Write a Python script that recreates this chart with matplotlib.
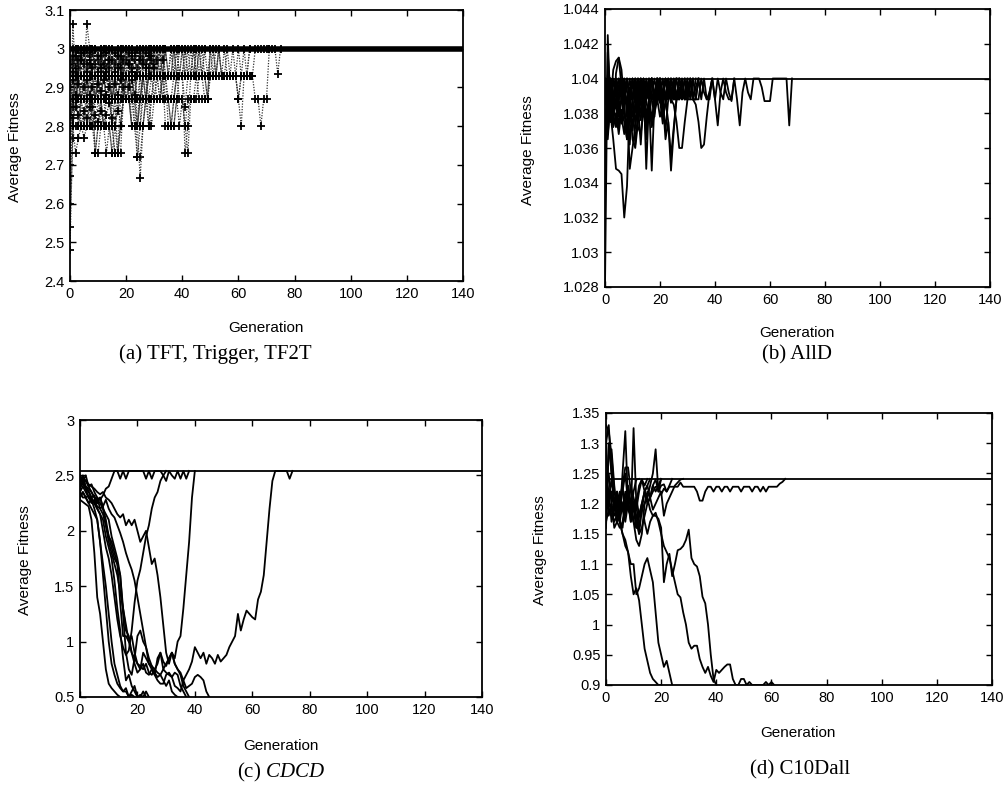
import numpy as np
import matplotlib
matplotlib.use("Agg")
import matplotlib.pyplot as plt
from matplotlib.ticker import FuncFormatter

plt.rcParams["mathtext.fontset"] = "custom"
plt.rcParams["mathtext.it"] = "Liberation Serif:italic"
plt.rcParams["mathtext.rm"] = "Liberation Serif"

# ---------------- data ----------------
gen_range = [0, 140]
x_ticks = [0, 20, 40, 60, 80, 100, 120, 140]

# (a) TFT, Trigger, TF2T
a_ylim = [2.4, 3.1]
a_yticks = [2.4, 2.5, 2.6, 2.7, 2.8, 2.9, 3.0, 3.1]
a_plateau = 3.0
a_run1 = [2.48, 2.8, 2.87, 2.93, 2.87, 2.8, 2.8, 2.8, 2.87, 2.73, 2.8, 2.87, 2.93, 3.0, 2.93, 2.8, 2.73, 2.73, 2.87, 2.93, 3.0]
a_run2 = [2.54, 2.77, 2.93, 3.0, 2.93, 2.87, 2.93, 2.93, 2.8, 2.8, 2.87, 2.93, 2.87, 2.8, 2.8, 2.73, 2.8, 2.87, 2.93, 2.87, 2.93, 3.0, 2.93, 2.8, 2.72, 2.72, 2.8, 2.87, 2.93, 3.0]
a_run3 = [2.6, 2.85, 3.0, 3.0, 2.93, 2.93, 3.065, 3.0, 2.93, 2.87, 2.87, 2.93, 3.0, 2.93, 2.87, 2.87, 2.8, 2.73, 2.73, 2.87, 2.93, 2.93, 3.0, 2.93, 2.8, 2.665, 2.8, 2.87, 2.93, 2.93, 3.0, 2.93, 2.87, 2.87, 2.93, 2.8, 2.8, 2.87, 2.93, 3.0]
a_run4 = [2.67, 3.065, 2.93, 2.87, 2.8, 2.77, 2.8, 2.8, 2.85, 2.87, 2.93, 3.0, 2.93, 2.93, 2.87, 2.8, 2.8, 2.87, 2.93, 3.0, 2.93, 2.93, 2.87, 2.8, 2.8, 2.87, 2.93, 2.93, 2.87, 2.8, 2.87, 2.93, 2.93, 3.0, 2.93, 2.87, 2.8, 2.8, 2.87, 2.8, 2.87, 2.8, 2.73, 2.87, 2.87, 2.87, 2.93, 2.93, 2.87, 2.87, 3.0]
a_run5 = [2.7, 2.93, 2.93, 2.93, 2.87, 2.87, 2.93, 3.0, 2.93, 2.93, 2.87, 2.87, 2.93, 2.93, 3.0, 2.93, 2.93, 2.87, 2.93, 2.93, 2.93, 3.0, 2.93, 2.93, 2.87, 2.87, 2.93, 3.0, 3.0, 2.93, 3.0, 2.93, 2.93, 2.93, 3.0, 2.93, 2.93, 3.0, 2.93, 2.93, 2.93, 3.0, 2.93, 2.93, 2.93, 2.93, 3.0, 2.93, 2.93, 2.87, 3.0, 3.0, 2.93, 3.0, 2.93, 2.93, 2.93, 2.93, 2.93, 2.93, 2.87, 2.93, 2.93, 2.93, 2.93, 2.93, 3.0, 3.0, 3.0, 3.0, 3.0, 3.0, 3.0, 3.0, 2.935, 3.0]
a_run6 = [2.73, 2.93, 2.87, 2.8, 2.87, 2.93, 2.93, 2.8, 2.8, 2.87, 2.93, 2.87, 2.8, 2.73, 2.8, 2.8, 2.87, 2.93, 3.0, 2.93, 2.87, 2.87, 2.8, 2.8, 2.8, 2.93, 2.93, 2.87, 2.8, 2.87, 2.93, 2.87, 2.87, 2.93, 2.8, 2.8, 2.8, 2.87, 2.93, 2.87, 2.87, 2.8, 2.87, 2.87, 2.87, 2.93, 2.87, 2.87, 2.87, 2.87, 2.93, 2.93, 3.0]
a_run7 = [2.8, 2.87, 2.93, 2.8, 2.8, 2.8, 2.87, 2.93, 3.0, 2.93, 2.93, 2.87, 2.8, 2.8, 2.8, 2.73, 2.73, 2.73, 2.8, 2.87, 2.93, 2.93, 2.93, 2.87, 2.72, 2.8, 2.93, 2.93, 2.8, 2.87, 2.93, 2.93, 2.93, 2.87, 2.87, 2.87, 2.8, 2.8, 2.87, 2.93, 2.93, 2.85, 2.93, 2.93, 2.93, 2.93, 2.93, 2.93, 2.93, 2.93, 2.93, 2.93, 2.93, 2.93, 2.93, 2.93, 2.93, 2.93, 2.93, 2.93, 2.87, 2.8, 2.93, 2.93, 3.0]
a_run8 = [2.93, 3.0, 2.93, 2.93, 3.0, 2.93, 2.87, 2.87, 2.87, 2.73, 2.8, 2.87, 2.8, 2.87, 2.93, 2.87, 2.87, 2.73, 2.8, 2.87, 2.93, 2.87, 2.8, 2.8, 2.8, 2.87, 2.93, 2.87, 2.87, 2.87, 2.87, 2.93, 2.93, 2.87, 2.87, 2.87, 2.87, 2.87, 2.93, 2.93, 2.93, 2.73, 2.8, 2.93, 2.93, 3.0]
a_run9 = [2.95, 2.93, 3.0, 2.93, 2.8, 2.8, 2.93, 2.93, 2.87, 2.87, 2.93, 2.93, 3.0, 2.93, 2.93, 2.87, 2.93, 3.0, 2.93, 2.93, 3.0, 2.93, 2.93, 2.87, 2.93, 3.0, 2.93, 2.93, 3.0, 2.93, 2.93, 2.93, 3.0, 2.93, 2.93, 2.93, 3.0, 2.93, 3.0, 2.93, 2.93, 3.0, 2.93, 2.93, 3.0, 2.93, 2.93, 3.0, 2.93, 2.87, 2.93, 3.0, 2.93, 3.0, 2.93, 3.0, 2.93, 2.93, 3.0, 2.93, 2.87, 2.93, 3.0, 2.93, 2.93, 2.93, 2.87, 2.87, 2.8, 2.87, 2.87, 3.0]
a_run10 = [2.93, 2.93, 2.87, 2.93, 3.0, 2.93, 2.87, 2.93, 2.93, 3.0, 2.93, 2.87, 2.87, 2.93, 2.93, 2.87, 2.93, 3.0, 2.93, 2.87, 2.93, 2.93, 2.87, 2.93, 3.0, 2.93, 2.87, 2.87, 2.93, 3.0, 2.93, 2.93, 2.87, 2.93, 3.0]
a_run11 = [2.87, 2.8, 2.8, 2.8, 2.87, 2.8, 2.8, 2.8, 2.87, 2.93, 2.87, 2.8, 2.8, 2.8, 2.8, 2.87, 2.93, 2.87, 2.8, 2.87, 2.93, 2.93, 2.8, 2.8, 2.8, 2.8, 2.87, 2.87, 2.93, 2.93, 3.0]
a_run12 = [3.0, 2.93, 2.93, 3.0, 2.93, 3.0, 2.93, 2.93, 3.0, 2.93, 2.93, 3.0, 2.93, 2.87, 2.93, 3.0, 2.93, 2.93, 3.0, 2.93, 2.93, 2.93, 3.0, 2.93, 2.93, 3.0, 2.93, 2.93, 2.93, 3.0, 2.93, 2.93, 3.0, 2.93, 3.0, 2.93, 2.93, 3.0, 2.93, 2.93, 3.0, 2.93, 2.93, 3.0, 2.93, 3.0, 2.93, 2.93, 3.0, 2.93, 3.0, 2.93, 2.93, 3.0, 2.93, 2.93, 3.0, 2.93, 2.93, 2.93, 3.0, 2.93, 2.93, 2.93, 3.0]
a_run13 = [2.93, 2.87, 2.93, 2.87, 2.87, 2.93, 2.87, 2.87, 2.93, 2.87, 2.87, 2.87, 2.93, 2.87, 2.87, 2.93, 2.87, 2.87, 2.87, 2.93, 2.87, 2.93, 2.87, 2.87, 2.8, 2.87, 2.93, 2.87, 2.87, 2.93, 2.87, 2.87, 2.87, 2.93, 2.87, 2.87, 2.87, 2.93, 2.93, 3.0]
a_run14 = [2.85, 2.93, 3.0, 2.93, 2.87, 2.93, 3.0, 2.93, 2.93, 2.87, 2.93, 3.0, 2.93, 2.93, 3.0, 2.93, 2.87, 2.93, 3.0, 2.93, 2.93, 3.0, 2.93, 2.93, 2.87, 2.93, 3.0, 2.93, 3.0, 2.93, 2.93, 3.0, 2.93, 3.0, 2.93, 2.93, 3.0, 2.93, 3.0, 2.93, 3.0, 2.93, 3.0, 2.93, 3.0, 2.93, 3.0, 2.93, 3.0]
a_run15 = [2.8, 2.8, 2.73, 2.77, 2.8, 2.8, 2.87, 2.8, 2.8, 2.73, 2.73, 2.8, 2.8, 2.8, 2.8, 2.8, 2.73, 2.73, 2.8, 2.87, 2.93, 2.87, 2.8, 2.8, 2.8, 2.8, 2.8, 2.87, 2.93, 3.0]
a_run16 = [2.97, 2.96, 3.0, 2.95, 2.97, 3.0, 2.96, 2.98, 2.95, 3.0, 2.97, 2.96, 2.99, 2.95, 2.97, 3.0, 2.96, 2.98, 2.95, 2.97, 3.0, 2.96, 2.98, 2.97, 2.95, 3.0, 2.97, 2.96, 2.98, 3.0, 2.96, 2.97, 3.0]
a_run17 = [2.96, 2.98, 2.95, 2.97, 2.99, 2.96, 2.93, 2.97, 2.99, 2.96, 2.94, 2.98, 2.96, 2.99, 2.95, 2.97, 2.94, 2.98, 2.96, 2.93, 2.97, 2.99, 2.95, 2.97, 2.94, 2.98, 2.96, 2.99, 2.95, 2.97, 3.0]
a_run18 = [2.9, 2.92, 2.88, 2.91, 2.87, 2.9, 2.92, 2.88, 2.9, 2.87, 2.91, 2.89, 2.92, 2.88, 2.9, 2.87, 2.91, 2.88, 2.92, 2.9, 2.87, 2.9, 2.92, 2.88, 2.93, 3.0]
a_run19 = [3.0, 2.94, 2.98, 2.93, 2.97, 2.99, 2.94, 2.96, 3.0, 2.93, 2.98, 2.95, 3.0, 2.94, 2.97, 2.93, 2.99, 2.95, 2.98, 2.93, 3.0, 2.96, 2.94, 2.99, 2.93, 2.97, 3.0, 2.95, 2.93, 2.98, 2.95, 3.0, 2.93, 2.97, 3.0]
a_run20 = [2.83, 2.82, 2.85, 2.83, 2.8, 2.84, 2.82, 2.85, 2.8, 2.83, 2.81, 2.84, 2.8, 2.83, 2.86, 2.82, 2.8, 2.84, 2.87, 2.93, 3.0]
a_runs = [a_run1, a_run2, a_run3, a_run4, a_run5, a_run6, a_run7, a_run8,
          a_run9, a_run10, a_run11, a_run12, a_run13, a_run14, a_run15,
          a_run16, a_run17, a_run18, a_run19, a_run20]

# (b) AllD
b_ylim = [1.028, 1.044]
b_yticks = [1.028, 1.030, 1.032, 1.034, 1.036, 1.038, 1.040, 1.042, 1.044]
b_plateau = 1.040
b_run1 = [1.028, 1.0425, 1.038, 1.0365, 1.0348, 1.0347, 1.0345, 1.032, 1.0338, 1.0385, 1.04, 1.0388, 1.04, 1.0392, 1.04, 1.0388, 1.0395, 1.04]
b_run2 = [1.0335, 1.0415, 1.039, 1.0375, 1.0403, 1.0412, 1.0405, 1.0385, 1.0388, 1.0348, 1.036, 1.0372, 1.0388, 1.04, 1.0385, 1.0365, 1.0388, 1.04, 1.039, 1.0395, 1.04]
b_run3 = [1.0345, 1.04, 1.0388, 1.0396, 1.04, 1.0388, 1.0374, 1.0388, 1.04, 1.0388, 1.0365, 1.036, 1.0375, 1.0388, 1.04, 1.0348, 1.0388, 1.04, 1.0388, 1.039, 1.04, 1.0388, 1.0365, 1.0375, 1.0347, 1.037, 1.0388, 1.04]
b_run4 = [1.037, 1.04, 1.0375, 1.0388, 1.04, 1.0388, 1.04, 1.0388, 1.0385, 1.039, 1.0388, 1.04, 1.0378, 1.0388, 1.0388, 1.04, 1.0388, 1.0347, 1.0388, 1.04, 1.0388, 1.039, 1.0388, 1.04, 1.0388, 1.0385, 1.0375, 1.036, 1.036, 1.0375, 1.0388, 1.04, 1.0388, 1.0388, 1.04]
b_run5 = [1.039, 1.04, 1.0388, 1.04, 1.0392, 1.04, 1.0388, 1.0392, 1.04, 1.0388, 1.0388, 1.04, 1.0392, 1.0388, 1.04, 1.0392, 1.0388, 1.04, 1.0388, 1.0388, 1.04, 1.0392, 1.0388, 1.04, 1.0388, 1.0392, 1.04, 1.0388, 1.039, 1.04, 1.0388, 1.0388, 1.0388, 1.0385, 1.0375, 1.036, 1.0362, 1.0378, 1.0392, 1.04, 1.0388, 1.0373, 1.0392, 1.04, 1.0392, 1.0388, 1.0388, 1.04, 1.0388, 1.0373, 1.0392, 1.04, 1.0392, 1.0388, 1.04, 1.04, 1.04, 1.0395, 1.0387, 1.0387, 1.0387, 1.04, 1.04, 1.04, 1.04, 1.04, 1.04, 1.0373, 1.04]
b_run6 = [1.04, 1.0388, 1.04, 1.0388, 1.0388, 1.04, 1.0392, 1.0388, 1.04, 1.0388, 1.039, 1.04, 1.0388, 1.04, 1.0392, 1.0388, 1.04, 1.0388, 1.039, 1.04, 1.0388, 1.0374, 1.0388, 1.04, 1.0392, 1.0388, 1.0388, 1.04, 1.0392, 1.0388, 1.04, 1.0388, 1.04, 1.0388, 1.0388, 1.04, 1.0392, 1.0388, 1.0392, 1.04, 1.0388, 1.04, 1.0392, 1.0388, 1.04, 1.0392, 1.0387, 1.04]
b_run7 = [1.0385, 1.0402, 1.0385, 1.0405, 1.041, 1.0412, 1.0395, 1.0378, 1.0375, 1.0395, 1.0388, 1.0362, 1.038, 1.0393, 1.0388, 1.037, 1.0388, 1.04, 1.0388, 1.0393, 1.04, 1.0378, 1.0385, 1.0395, 1.0388, 1.0392, 1.04]
b_run8 = [1.0365, 1.0395, 1.0378, 1.0388, 1.0392, 1.0378, 1.0388, 1.0395, 1.0382, 1.0388, 1.0372, 1.0385, 1.0395, 1.0388, 1.0378, 1.0392, 1.0388, 1.0378, 1.0385, 1.0395, 1.0388, 1.0392, 1.0388, 1.0375, 1.0355, 1.0372, 1.0388, 1.0395, 1.0388, 1.039, 1.0388, 1.04, 1.0388, 1.0395, 1.04]
b_run9 = [1.0388, 1.04, 1.0375, 1.039, 1.04, 1.038, 1.0388, 1.04, 1.0378, 1.0388, 1.04, 1.0388, 1.038, 1.04, 1.0388, 1.0392, 1.04, 1.0388, 1.0378, 1.04, 1.0388, 1.04, 1.039, 1.0388, 1.04, 1.0388, 1.0392, 1.0388, 1.04, 1.0388, 1.0388, 1.04, 1.0388, 1.04]
b_run10 = [1.04, 1.0375, 1.04, 1.0385, 1.0375, 1.039, 1.04, 1.0385, 1.0365, 1.0388, 1.04, 1.0388, 1.0392, 1.04, 1.0388, 1.0388, 1.04, 1.0388, 1.0392, 1.0388, 1.04, 1.0388, 1.04, 1.0388, 1.0392, 1.04, 1.0388, 1.04, 1.0388, 1.0392, 1.04]
b_run11 = [1.0392, 1.0388, 1.04, 1.0388, 1.0392, 1.0388, 1.04, 1.0388, 1.0388, 1.04, 1.0388, 1.0392, 1.04, 1.0388, 1.0388, 1.0392, 1.0388, 1.04, 1.0388, 1.04, 1.0388, 1.0388, 1.04, 1.0392, 1.0388, 1.04, 1.0388, 1.0388, 1.04, 1.0388, 1.0392, 1.04, 1.0388, 1.0388, 1.04, 1.0388, 1.04, 1.0388, 1.0388, 1.04]
b_run12 = [1.0375, 1.0365, 1.0388, 1.0378, 1.0372, 1.0385, 1.0378, 1.0368, 1.0385, 1.0375, 1.0388, 1.0375, 1.0385, 1.0362, 1.0388, 1.0378, 1.0385, 1.0375, 1.0388, 1.04]
b_run13 = [1.0355, 1.038, 1.0395, 1.0385, 1.0392, 1.0388, 1.0375, 1.0392, 1.0388, 1.0362, 1.0388, 1.0395, 1.0388, 1.038, 1.0392, 1.0388, 1.0375, 1.0392, 1.04, 1.0388, 1.0392, 1.0388, 1.037, 1.0388, 1.0392, 1.0388, 1.04]
b_run14 = [1.0378, 1.0368, 1.0385, 1.0372, 1.038, 1.0368, 1.0382, 1.0375, 1.0365, 1.038, 1.037, 1.0385, 1.0372, 1.0368, 1.0382, 1.0375, 1.0385, 1.0372, 1.038, 1.0388, 1.0378, 1.0385, 1.0392, 1.0388, 1.04]
b_run15 = [1.0382, 1.0374, 1.0392, 1.0378, 1.0386, 1.0372, 1.039, 1.038, 1.0372, 1.0386, 1.0378, 1.0392, 1.0384, 1.0376, 1.039, 1.038, 1.0386, 1.0392, 1.0384, 1.039, 1.0386, 1.0392, 1.0388, 1.0394, 1.0386, 1.0392, 1.0388, 1.0394, 1.0388, 1.04]
b_run16 = [1.0395, 1.0385, 1.04, 1.0392, 1.0385, 1.0396, 1.0388, 1.04, 1.0392, 1.0386, 1.0397, 1.039, 1.04, 1.0393, 1.0387, 1.0398, 1.039, 1.04, 1.0392, 1.0388, 1.0396, 1.039, 1.04, 1.0394, 1.0388, 1.0396, 1.039, 1.04, 1.0392, 1.0388, 1.0396, 1.039, 1.04]
b_runs = [b_run1, b_run2, b_run3, b_run4, b_run5, b_run6, b_run7, b_run8,
          b_run9, b_run10, b_run11, b_run12, b_run13, b_run14, b_run15, b_run16]

# (c) CDCD
c_ylim = [0.5, 3.0]
c_yticks = [0.5, 1.0, 1.5, 2.0, 2.5, 3.0]
c_plateau = 2.54
c_run1 = [2.28, 2.26, 2.24, 2.22, 2.1, 1.8, 1.4, 1.25, 1.0, 0.75, 0.62, 0.58, 0.55, 0.52, 0.5, 0.48, 0.5, 0.48]
c_run2 = [2.35, 2.3, 2.3, 2.25, 2.2, 2.15, 2.1, 1.9, 1.6, 1.3, 1.0, 0.8, 0.7, 0.62, 0.58, 0.55, 0.55, 0.5, 0.52, 0.5, 0.48]
c_run3 = [2.4, 2.45, 2.38, 2.3, 2.28, 2.25, 2.2, 2.15, 2.1, 1.95, 1.85, 1.75, 1.55, 1.3, 1.1, 0.85, 0.65, 0.7, 0.6, 0.55, 0.5, 0.52, 0.5, 0.55, 0.5, 0.48]
c_run4 = [2.45, 2.5, 2.4, 2.38, 2.35, 2.3, 2.28, 2.25, 2.2, 2.1, 1.95, 1.9, 1.8, 1.7, 1.35, 1.05, 1.05, 1.0, 1.05, 0.9, 0.8, 0.75, 0.8, 0.72, 0.7, 0.75, 0.72, 0.68, 0.7, 0.65, 0.6, 0.65, 0.55, 0.52, 0.5, 0.48]
c_run5 = [2.3, 2.35, 2.3, 2.32, 2.28, 2.25, 2.3, 2.2, 2.22, 2.05, 1.95, 1.85, 1.75, 1.7, 1.6, 1.25, 0.9, 0.75, 0.7, 0.85, 1.05, 1.1, 1.0, 0.95, 0.8, 0.75, 0.7, 0.65, 0.62, 0.62, 0.7, 0.72, 0.68, 0.6, 0.58, 0.55, 0.65, 0.58, 0.6, 0.62, 0.68, 0.7, 0.68, 0.65, 0.55, 0.5, 0.48]
c_run6 = [2.42, 2.48, 2.45, 2.4, 2.42, 2.35, 2.3, 2.28, 2.32, 2.38, 2.4, 2.47, 2.54, 2.54, 2.47, 2.54, 2.47, 2.54, 2.54, 2.54, 2.54, 2.54, 2.54, 2.47, 2.54, 2.47, 2.54, 2.54, 2.54, 2.5, 2.45, 2.54, 2.5, 2.47, 2.54, 2.47, 2.54, 2.47, 2.54]
c_run7 = [2.4, 2.42, 2.38, 2.35, 2.3, 2.25, 2.2, 2.15, 2.0, 1.85, 1.75, 1.6, 1.4, 1.2, 1.05, 0.95, 0.88, 0.92, 1.1, 1.35, 1.55, 1.65, 1.8, 1.95, 2.05, 2.2, 2.3, 2.35, 2.45, 2.5, 2.54]
c_run8 = [2.45, 2.48, 2.45, 2.42, 2.4, 2.38, 2.35, 2.33, 2.35, 2.3, 2.28, 2.25, 2.2, 2.15, 2.12, 2.15, 2.05, 2.1, 2.05, 2.1, 2.0, 1.9, 1.95, 2.0, 1.85, 1.7, 1.75, 1.6, 1.4, 1.15, 0.9, 0.8, 0.9, 0.85, 1.0, 1.05, 1.3, 1.6, 1.9, 2.3, 2.54]
c_run9 = [2.35, 2.4, 2.35, 2.3, 2.25, 2.28, 2.22, 2.2, 2.15, 2.05, 1.9, 1.8, 1.7, 1.6, 1.45, 1.3, 1.15, 1.0, 0.9, 0.85, 0.8, 0.78, 0.75, 0.8, 0.72, 0.7, 0.75, 0.8, 0.9, 0.82, 0.78, 0.85, 0.9, 0.8, 0.75, 0.72, 0.65, 0.7, 0.75, 0.82, 0.95, 0.9, 0.85, 0.9, 0.8, 0.88, 0.85, 0.8, 0.88, 0.82, 0.85, 0.88, 0.95, 1.0, 1.05, 1.25, 1.1, 1.2, 1.28, 1.25, 1.22, 1.2, 1.38, 1.45, 1.6, 1.9, 2.2, 2.45, 2.54, 2.54, 2.54, 2.54, 2.54, 2.47, 2.54]
c_run10 = [2.3, 2.35, 2.3, 2.25, 2.28, 2.2, 2.1, 1.9, 1.7, 1.5, 1.25, 1.0, 0.8, 0.7, 0.6, 0.55, 0.58, 0.5, 0.55, 0.6, 0.5, 0.5, 0.55, 0.5, 0.48]
c_run11 = [2.5, 2.45, 2.5, 2.4, 2.35, 2.3, 2.25, 2.3, 2.2, 2.15, 2.1, 1.95, 1.85, 1.75, 1.6, 1.3, 1.1, 1.05, 0.9, 0.8, 0.72, 0.75, 0.9, 0.85, 0.8, 0.78, 0.7, 0.85, 0.9, 0.75, 0.8, 0.85, 0.9, 0.8, 0.75, 0.7, 0.6, 0.55, 0.5, 0.48]
c_run12 = [2.38, 2.44, 2.4, 2.36, 2.3, 2.32, 2.25, 2.3, 2.22, 2.28, 2.2, 2.15, 2.12, 2.05, 1.98, 1.9, 1.8, 1.72, 1.65, 1.55, 1.4, 1.25, 1.1, 0.95, 0.85, 0.78, 0.75, 0.72, 0.7, 0.75, 0.72, 0.7, 0.68, 0.72, 0.7, 0.6, 0.55, 0.5, 0.48]
c_runs = [c_run1, c_run2, c_run3, c_run4, c_run5, c_run6, c_run7, c_run8,
          c_run9, c_run10, c_run11, c_run12]

# (d) C10Dall
d_ylim = [0.9, 1.35]
d_yticks = [0.9, 0.95, 1.0, 1.05, 1.1, 1.15, 1.2, 1.25, 1.3, 1.35]
d_plateau = 1.241
d_run1 = [1.2, 1.22, 1.21, 1.2, 1.18, 1.17, 1.15, 1.13, 1.12, 1.08, 1.05, 1.06, 1.04, 1.0, 0.96, 0.94, 0.92, 0.91, 0.905, 0.9, 0.9, 0.89]
d_run2 = [1.22, 1.25, 1.2, 1.18, 1.19, 1.17, 1.15, 1.14, 1.12, 1.1, 1.1, 1.05, 1.06, 1.08, 1.1, 1.11, 1.09, 1.07, 1.02, 0.97, 0.95, 0.93, 0.94, 0.92, 0.9, 0.89]
d_run3 = [1.18, 1.21, 1.24, 1.2, 1.22, 1.19, 1.2, 1.18, 1.21, 1.17, 1.2, 1.16, 1.18, 1.2, 1.17, 1.15, 1.17, 1.18, 1.18, 1.175, 1.16, 1.07, 1.1, 1.117, 1.08, 1.1, 1.123, 1.125, 1.13, 1.14, 1.157, 1.11, 1.1, 1.096, 1.08, 1.046, 1.035, 1.0, 0.95, 0.91, 0.9, 0.89]
d_run4 = [1.25, 1.2, 1.22, 1.19, 1.21, 1.2, 1.23, 1.18, 1.22, 1.2, 1.17, 1.16, 1.18, 1.19, 1.2, 1.21, 1.19, 1.18, 1.185, 1.17, 1.15, 1.13, 1.12, 1.11, 1.09, 1.07, 1.05, 1.045, 1.02, 1.0, 0.97, 0.96, 0.965, 0.965, 0.943, 0.93, 0.92, 0.93, 0.915, 0.905, 0.925, 0.92, 0.925, 0.93, 0.934, 0.934, 0.91, 0.9, 0.9, 0.91, 0.91, 0.9, 0.905, 0.9, 0.9, 0.9, 0.9, 0.9, 0.905, 0.9, 0.905, 0.9]
d_run5 = [1.33, 1.32, 1.28, 1.22, 1.2, 1.18, 1.25, 1.32, 1.2, 1.18, 1.22, 1.24, 1.241]
d_run6 = [1.16, 1.3, 1.25, 1.2, 1.17, 1.19, 1.22, 1.25, 1.2, 1.18, 1.325, 1.2, 1.15, 1.19, 1.22, 1.21, 1.23, 1.25, 1.29, 1.22, 1.241]
d_run7 = [1.21, 1.2, 1.19, 1.17, 1.18, 1.21, 1.23, 1.26, 1.26, 1.22, 1.2, 1.18, 1.16, 1.2, 1.22, 1.23, 1.21, 1.22, 1.228, 1.228, 1.215, 1.225, 1.22, 1.228, 1.228, 1.228, 1.228, 1.235, 1.228, 1.228, 1.228, 1.228, 1.228, 1.22, 1.205, 1.205, 1.22, 1.228, 1.228, 1.22, 1.228, 1.228, 1.22, 1.228, 1.228, 1.22, 1.228, 1.228, 1.228, 1.22, 1.228, 1.228, 1.228, 1.22, 1.228, 1.228, 1.22, 1.228, 1.22, 1.228, 1.228, 1.228, 1.228, 1.233, 1.236, 1.241]
d_run8 = [1.17, 1.19, 1.18, 1.2, 1.17, 1.16, 1.17, 1.2, 1.19, 1.18, 1.2, 1.17, 1.15, 1.16, 1.18, 1.2, 1.21, 1.19, 1.2, 1.21, 1.22, 1.18, 1.2, 1.21, 1.22, 1.23, 1.235, 1.24, 1.241]
d_run9 = [1.3, 1.33, 1.25, 1.2, 1.22, 1.17, 1.16, 1.2, 1.23, 1.2, 1.17, 1.14, 1.13, 1.15, 1.2, 1.22, 1.21, 1.23, 1.24, 1.22, 1.23, 1.232, 1.22, 1.23, 1.241]
d_run10 = [1.2, 1.28, 1.29, 1.23, 1.19, 1.17, 1.2, 1.21, 1.22, 1.19, 1.17, 1.2, 1.23, 1.24, 1.23, 1.241]
d_run11 = [1.24, 1.22, 1.17, 1.19, 1.2, 1.22, 1.19, 1.17, 1.2, 1.23, 1.21, 1.19, 1.22, 1.24, 1.22, 1.23, 1.241]
d_run12 = [1.31, 1.18, 1.2, 1.16, 1.17, 1.2, 1.19, 1.22, 1.2, 1.17, 1.19, 1.21, 1.18, 1.2, 1.22, 1.2, 1.21, 1.23, 1.22, 1.23, 1.241]
d_runs = [d_run1, d_run2, d_run3, d_run4, d_run5, d_run6, d_run7, d_run8,
          d_run9, d_run10, d_run11, d_run12]

captions = ["(a) TFT, Trigger, TF2T", "(b) AllD", "(c) $\\mathit{CDCD}$", "(d) C10Dall"]
xlabel = "Generation"
ylabel = "Average Fitness"

# ---------------- drawing ----------------
W, H = 1007, 786
fig = plt.figure(figsize=(W / 100, H / 100), dpi=100)
sans = ["Liberation Sans", "DejaVu Sans"]
serif = ["Liberation Serif", "DejaVu Serif"]
LW = 1.3


def fx(px):
    return px / W


def fy(py):
    return 1 - py / H


def make_ax(l, t, r, b):
    return fig.add_axes([fx(l), fy(b), fx(r) - fx(l), fy(t) - fy(b)])


def style(ax, ylim, yticks):
    ax.set_xlim(gen_range)
    ax.set_ylim(ylim)
    ax.set_xticks(x_ticks)
    ax.set_yticks(yticks)
    ax.yaxis.set_major_formatter(FuncFormatter(lambda v, p: "%g" % round(v, 4)))
    ax.tick_params(direction="in", length=4, width=1, top=True, right=True,
                   labelsize=10.5, pad=4)
    for lab in ax.get_xticklabels() + ax.get_yticklabels():
        lab.set_fontfamily(sans)
    for s in ax.spines.values():
        s.set_linewidth(1.3)


# (a)
axa = make_ax(70, 10, 463, 281)
for run in a_runs:
    g = np.arange(len(run))
    axa.plot(g, run, ls=(0, (1, 1.2)), lw=0.9, color="0.2")
    axa.plot(g, run, ls="none", marker="+", ms=6, mew=1.3, color="black")
axa.hlines(a_plateau, gen_range[0], gen_range[1], color="black", lw=4)
style(axa, a_ylim, a_yticks)

# (b)
axb = make_ax(605, 9, 990, 287)
for run in b_runs:
    axb.plot(np.arange(len(run)), run, color="black", lw=LW)
axb.hlines(b_plateau, gen_range[0], gen_range[1], color="black", lw=LW)
style(axb, b_ylim, b_yticks)

# (c)
axc = make_ax(80, 420, 482, 697)
for run in c_runs:
    axc.plot(np.arange(len(run)), run, color="black", lw=LW)
axc.hlines(c_plateau, gen_range[0], gen_range[1], color="black", lw=LW)
style(axc, c_ylim, c_yticks)

# (d)
axd = make_ax(606, 413, 992, 685)
for run in d_runs:
    axd.plot(np.arange(len(run)), run, color="black", lw=LW)
axd.hlines(d_plateau, gen_range[0], gen_range[1], color="black", lw=LW)
style(axd, d_ylim, d_yticks)

# axis labels
lab_kw = dict(fontsize=11, family=sans, ha="center", va="center")
fig.text(fx(15), fy(147), ylabel, rotation=90, **lab_kw)
fig.text(fx(528), fy(150), ylabel, rotation=90, **lab_kw)
fig.text(fx(25), fy(560), ylabel, rotation=90, **lab_kw)
fig.text(fx(540), fy(550), ylabel, rotation=90, **lab_kw)
fig.text(fx(266), fy(328), xlabel, **lab_kw)
fig.text(fx(797), fy(333), xlabel, **lab_kw)
fig.text(fx(281), fy(746), xlabel, **lab_kw)
fig.text(fx(798), fy(733), xlabel, **lab_kw)

# captions
cap_kw = dict(fontsize=15, family=serif, ha="center", va="center")
fig.text(fx(215), fy(354), captions[0], **cap_kw)
fig.text(fx(797), fy(355), captions[1], **cap_kw)
fig.text(fx(281), fy(772), captions[2], **cap_kw)
fig.text(fx(800), fy(770), captions[3], **cap_kw)

fig.savefig("out.png", dpi=100)
